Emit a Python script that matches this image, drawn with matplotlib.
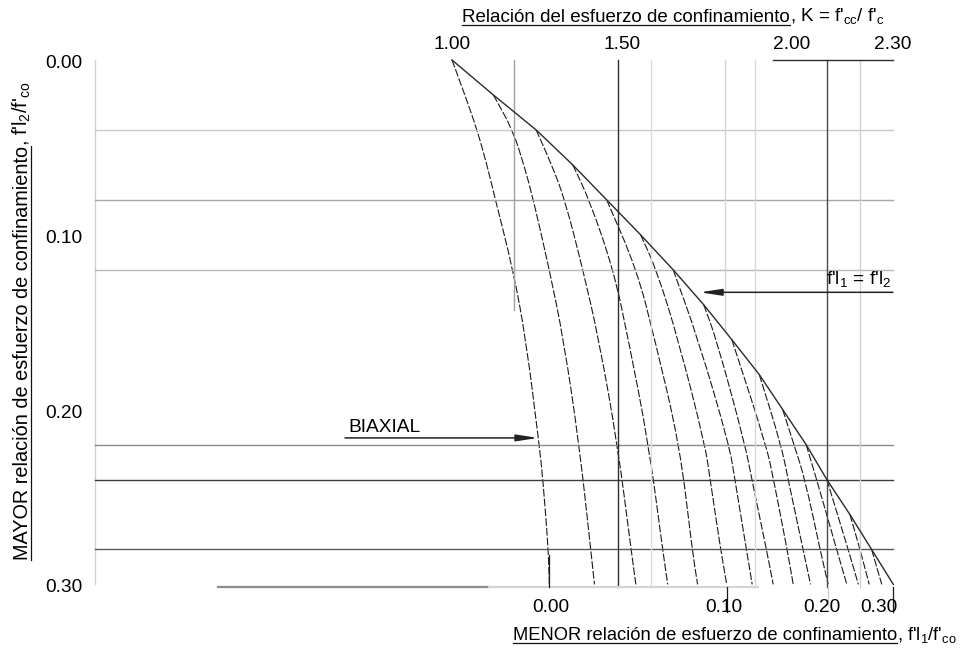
import matplotlib
matplotlib.use('Agg')
import matplotlib.pyplot as plt
from matplotlib.path import Path
from matplotlib.patches import PathPatch

plt.rcParams['font.family'] = ['Liberation Sans', 'DejaVu Sans']
FS = 13.8

# relacion menor f'l1/f'co de cada curva
lateral_ratio = [0.00, 0.02, 0.04, 0.06, 0.08, 0.10, 0.12, 0.14, 0.16, 0.18, 0.20, 0.22, 0.24, 0.26, 0.28]

# envolvente f'l1 = f'l2
envelope_f = [0.00, 0.02, 0.04, 0.06, 0.08, 0.10, 0.12, 0.14, 0.16, 0.18, 0.20, 0.22, 0.24, 0.26, 0.28, 0.30]
envelope_k = [1.000, 1.122, 1.248, 1.356, 1.456, 1.556, 1.652, 1.742, 1.825, 1.906, 1.975, 2.044, 2.105, 2.173, 2.237, 2.301]

# curvas: f'l2/f'co (eje vertical) y K
curve_f2 = [
    [0.00, 0.02, 0.04, 0.06, 0.08, 0.12, 0.16, 0.22, 0.24, 0.28, 0.30],
    [0.02, 0.04, 0.06, 0.08, 0.12, 0.16, 0.22, 0.28, 0.30],
    [0.04, 0.06, 0.08, 0.12, 0.16, 0.22, 0.28, 0.30],
    [0.06, 0.08, 0.12, 0.16, 0.22, 0.28, 0.30],
    [0.08, 0.12, 0.16, 0.22, 0.28, 0.30],
    [0.10, 0.12, 0.16, 0.22, 0.24, 0.28, 0.30],
    [0.12, 0.16, 0.22, 0.24, 0.28, 0.30],
    [0.14, 0.16, 0.22, 0.24, 0.28, 0.30],
    [0.16, 0.22, 0.24, 0.28, 0.30],
    [0.18, 0.22, 0.24, 0.28, 0.30],
    [0.20, 0.22, 0.24, 0.28, 0.30],
    [0.22, 0.24, 0.28, 0.30],
    [0.24, 0.28, 0.30],
    [0.26, 0.28, 0.30],
    [0.28, 0.30],
]
curve_k = [
    [1.000, 1.038, 1.074, 1.103, 1.128, 1.180, 1.218, 1.257, 1.268, 1.284, 1.287],
    [1.122, 1.179, 1.212, 1.240, 1.287, 1.329, 1.375, 1.409, 1.420],
    [1.248, 1.294, 1.333, 1.386, 1.433, 1.488, 1.528, 1.542],
    [1.356, 1.405, 1.476, 1.520, 1.580, 1.621, 1.636],
    [1.456, 1.545, 1.598, 1.671, 1.708, 1.724],
    [1.556, 1.603, 1.667, 1.746, 1.761, 1.792, 1.810],
    [1.652, 1.726, 1.817, 1.834, 1.868, 1.885],
    [1.742, 1.780, 1.864, 1.884, 1.927, 1.947],
    [1.825, 1.926, 1.948, 1.988, 2.006],
    [1.906, 1.970, 1.991, 2.035, 2.057],
    [1.975, 2.008, 2.041, 2.085, 2.109],
    [2.044, 2.075, 2.134, 2.164],
    [2.105, 2.168, 2.198],
    [2.173, 2.203, 2.230],
    [2.237, 2.267],
]

top_ticks = [1.00, 1.50, 2.00, 2.30]
top_labels = ['1.00', '1.50', '2.00', '2.30']
left_ticks = [0.00, 0.10, 0.20, 0.30]
left_labels = ['0.00', '0.10', '0.20', '0.30']
bottom_labels = ['0.00', '0.10', '0.20', '0.30']
bottom_label_k = [1.292, 1.800, 2.090, 2.258]

# lineas de la reticula
h_lines = [0.04, 0.08, 0.12, 0.22, 0.24, 0.28]
h_colors = ['#c8c8c8', '#a8a8a8', '#b8b8b8', '#8a8a8a', '#3c3c3c', '#5a5a5a']
v_lines = [1.183, 1.490, 1.588, 1.805, 1.893, 2.106, 2.203]
v_ends = [0.143, 0.3015, 0.3015, 0.155, 0.3015, 0.3015, 0.3015]
v_colors = ['#a0a0a0', '#2e2e2e', '#dcdcdc', '#d4d4d4', '#d8d8d8', '#4a4a4a', '#d0d0d0']

fig = plt.figure(figsize=(9.74, 6.52), dpi=100)
ax = fig.add_axes([0, 0, 1, 1])
ax.set_xlim(1 - 452 / 339.2, 1 + 522 / 339.2)
ax.set_ylim(592 / 1748, -60 / 1748)
ax.axis('off')

x_left = -0.0525
x_right = 2.300
y_base = 0.3015


def smooth(xs, ys):
    # trazo suave (b-spline cuadratico) que usa los puntos como vertices de control
    pts = list(zip(xs, ys))
    if len(pts) < 3:
        return Path(pts)
    mid = lambda a, b: ((a[0] + b[0]) / 2, (a[1] + b[1]) / 2)
    verts = [pts[0], mid(pts[0], pts[1])]
    codes = [Path.MOVETO, Path.LINETO]
    for i in range(1, len(pts) - 1):
        verts += [pts[i], mid(pts[i], pts[i + 1])]
        codes += [Path.CURVE3, Path.CURVE3]
    verts.append(pts[-1])
    codes.append(Path.LINETO)
    return Path(verts, codes)


# reticula
ax.plot([x_left, x_left], [0, 0.30], color='#d0d0d0', lw=1.0)
for h, c in zip(h_lines, h_colors):
    ax.plot([x_left, x_right], [h, h], color=c, lw=1.0)
for v, e, c in zip(v_lines, v_ends, v_colors):
    ax.plot([v, v], [0, e], color=c, lw=1.0)
ax.plot([1.946, 2.300], [0, 0], color='#2e2e2e', lw=1.0)

# linea inferior
ax.plot([0.310, 1.109], [y_base, y_base], color='#8c8c8c', lw=1.6)
ax.plot([1.109, 1.902], [y_base, y_base], color='#d4d4d4', lw=1.6)

# curvas
for f2, k in zip(curve_f2, curve_k):
    ax.add_patch(PathPatch(smooth(k, f2), fill=False, edgecolor='#1a1a1a',
                           lw=0.8, linestyle=(0, (7, 1.8))))
ax.plot(envelope_k, envelope_f, color='#2a2a2a', lw=1.0)

# marcas inferiores
ax.plot([curve_k[0][-1]] * 2, [0.283, y_base], color='#1a1a1a', lw=0.9)
ax.plot([curve_k[5][-1]] * 2, [y_base, 0.316], color='#1a1a1a', lw=0.9)
ax.plot([curve_k[10][-1]] * 2, [y_base, 0.312], color='#cfcfcf', lw=0.9)
ax.plot([envelope_k[-1]] * 2, [y_base, 0.316], color='#1a1a1a', lw=0.9)

# etiquetas de escala
for k, lab in zip(top_ticks, top_labels):
    ax.text(k, -0.0086, lab, ha='center', va='center', fontsize=FS)
for f, lab in zip(left_ticks, left_labels):
    ax.text(-0.0908, f + 0.002, lab, ha='right', va='center', fontsize=FS)
for k, lab in zip(bottom_label_k, bottom_labels):
    ax.text(k, 0.313, lab, ha='center', va='center', fontsize=FS)

# flechas
arrow = dict(arrowstyle='-|>,head_length=1.3,head_width=0.2', color='#222222',
             lw=1.1, shrinkA=0, shrinkB=0)
ax.annotate('', xy=(1.254, 0.2162), xytext=(0.6846, 0.2162), arrowprops=arrow)
ax.annotate('', xy=(1.731, 0.1329), xytext=(2.300, 0.1329), arrowprops=arrow)
ax.text(0.6934, 0.2105, 'BIAXIAL', ha='left', va='center', fontsize=FS)
ax.text(2.1036, 0.1287, r"f'l$_{\mathregular{1}}$ = f'l$_{\mathregular{2}}$",
        ha='left', va='baseline', fontsize=FS)

fig.canvas.draw()
inv = ax.transData.inverted()


def underlined(x, y, txt, rest, size, rot=0, align='left'):
    t = ax.text(x, y, txt, rotation=rot, rotation_mode='anchor',
                ha='left', va='baseline', fontsize=size)
    r = ax.text(x, y, rest, rotation=rot, rotation_mode='anchor',
                ha='left', va='baseline', fontsize=size)
    fig.canvas.draw()
    bx, by = ax.transData.transform((x, y))
    bt = t.get_window_extent()
    br = r.get_window_extent()
    if rot == 0:
        w = bt.width
        total = bt.width + br.width
        x0 = bx - total if align == 'right' else bx
        t.set_position(inv.transform((x0, by)))
        r.set_position(inv.transform((x0 + w, by)))
        p0 = inv.transform((x0, by - 3))
        p1 = inv.transform((x0 + w, by - 3))
    else:
        h = bt.height
        t.set_position(inv.transform((bx, by)))
        r.set_position(inv.transform((bx, by + h)))
        p0 = inv.transform((bx + 3, by))
        p1 = inv.transform((bx + 3, by + h))
    ax.plot([p0[0], p1[0]], [p0[1], p1[1]], color='#111111', lw=0.9)


underlined(1.0295, -0.0217, 'Relación del esfuerzo de confinamiento',
           r", K = f'$_{\mathregular{cc}}$/ f'$_{\mathregular{c}}$", 13.5)
underlined(2.489, 0.3318, 'MENOR relación de esfuerzo de confinamiento',
           r", f'l$_{\mathregular{1}}$/f'$_{\mathregular{co}}$", 13.2, align='right')
underlined(-0.25, 0.286, 'MAYOR relación de esfuerzo de confinamiento',
           r", f'l$_{\mathregular{2}}$/f'$_{\mathregular{co}}$", 14.3, rot=90)

fig.savefig('out.png', dpi=100)
